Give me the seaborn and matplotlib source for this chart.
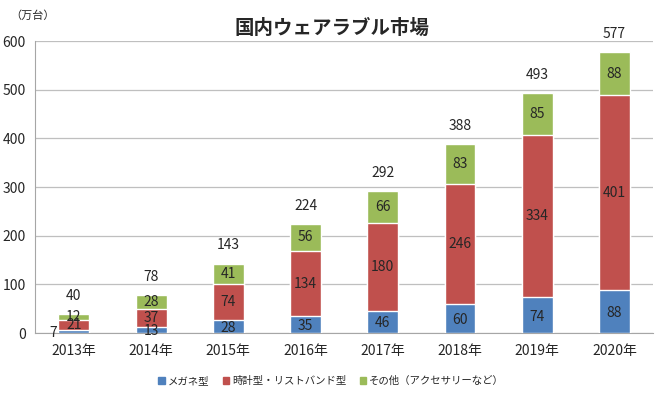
import matplotlib
matplotlib.use("Agg")
import matplotlib.pyplot as plt
import numpy as np
import pandas as pd
import seaborn as sns
from matplotlib.patches import Patch

# Data
years = ["2013年", "2014年", "2015年", "2016年", "2017年", "2018年", "2019年", "2020年"]
megane = [7, 13, 28, 35, 46, 60, 74, 88]
watch = [21, 37, 74, 134, 180, 246, 334, 401]
other = [12, 28, 41, 56, 66, 83, 85, 88]
totals = [40, 78, 143, 224, 292, 388, 493, 577]
series_names = ["メガネ型", "時計型・リストバンド型", "その他（アクセサリーなど）"]
colors = ["#4F81BD", "#C0504D", "#9BBB59"]

sns.set_style("white")
plt.rcParams['font.family'] = ['Noto Sans CJK JP', 'DejaVu Sans']

df = pd.DataFrame({"year": years, "megane": megane, "watch": watch, "other": other})
df["cum2"] = df["megane"] + df["watch"]
df["cum3"] = df["cum2"] + df["other"]

fig = plt.figure(figsize=(6.65, 3.99), dpi=100)
ax = fig.add_axes([0.053, 0.165, 0.929, 0.732])

# stacked bars: draw cumulative heights back to front
sns.barplot(data=df, x="year", y="cum3", color=colors[2], width=0.4, saturation=1, ax=ax, zorder=3)
sns.barplot(data=df, x="year", y="cum2", color=colors[1], width=0.4, saturation=1, ax=ax, zorder=3)
sns.barplot(data=df, x="year", y="megane", color=colors[0], width=0.4, saturation=1, ax=ax, zorder=3)

ax.set_ylim(0, 600)
ax.set_xlim(-0.5, len(years) - 0.5)
ax.set_yticks(range(0, 601, 100))
ax.yaxis.grid(True, color="#BFBFBF", linewidth=0.9, zorder=0)
ax.set_axisbelow(True)
ax.set_xlabel("")
ax.set_ylabel("")
for s in ["top", "right"]:
    ax.spines[s].set_visible(False)
ax.spines["left"].set_color("#A6A6A6")
ax.spines["bottom"].set_color("#A6A6A6")
ax.tick_params(axis="y", length=4, color="#A6A6A6", labelsize=10, pad=3)
ax.tick_params(axis="x", length=0, labelsize=10, pad=8)
ax.set_xticks(np.arange(-0.5, len(years)), minor=True)
ax.tick_params(axis="x", which="minor", length=4, color="#A6A6A6")

# segment labels
fs = 10
for i in range(len(years)):
    if megane[i] < 10:
        ax.text(i - 0.27, megane[i] / 2 - 4, str(megane[i]), ha="center", va="center", fontsize=fs)
    else:
        ax.text(i, megane[i] / 2 - 3, str(megane[i]), ha="center", va="center", fontsize=fs)
    ax.text(i, megane[i] + watch[i] / 2, str(watch[i]), ha="center", va="center", fontsize=fs)
    ax.text(i, megane[i] + watch[i] + other[i] / 2, str(other[i]), ha="center", va="center", fontsize=fs)
    ax.annotate(str(totals[i]), (i, megane[i] + watch[i] + other[i]), xytext=(0, 13),
                textcoords="offset points", ha="center", va="center", fontsize=fs)

fig.text(0.5, 0.93, "国内ウェアラブル市場", ha="center", va="center", fontsize=14, fontweight="bold")
fig.text(0.015, 0.962, "（万台）", ha="left", va="center", fontsize=8)

handles = [Patch(color=c) for c in colors]
fig.legend(handles, series_names, loc="center", bbox_to_anchor=(0.498, 0.045), ncol=3, frameon=False,
           fontsize=7.5, handlelength=0.6, handleheight=0.6, handletextpad=0.3, columnspacing=1.3)

fig.savefig("out.png", dpi=100)
